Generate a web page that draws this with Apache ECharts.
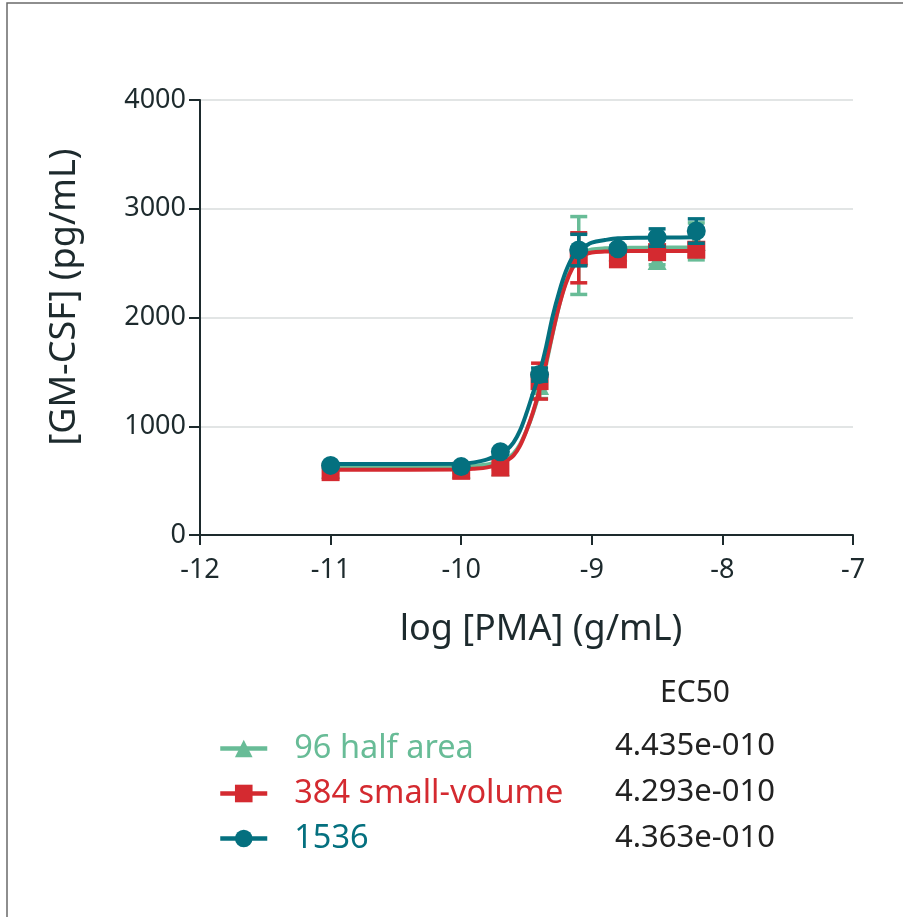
<!DOCTYPE html>
<html>
<head>
<meta charset="utf-8">
<script src="https://cdn.jsdelivr.net/npm/echarts@6/dist/echarts.min.js"></script>
<style>
  html, body { margin: 0; padding: 0; background: #ffffff; }
  #chart { width: 903px; height: 917px; }
</style>
</head>
<body>
<div id="chart"></div>
<script>
// Dose levels, log10 of PMA concentration (g/mL)
const doseLog = [-11, -10, -9.7, -9.4, -9.1, -8.8, -8.5, -8.2];

// Measured GM-CSF (pg/mL): mean and SD per dose, one pair per plate format
const halfAreaMean = [605, 608, 628, 1375, 2570, 2605, 2525, 2700];
const halfAreaSD   = [15, 15, 15, 120, 358, 30, 40, 170];
const smallVolMean = [578, 590, 620, 1415, 2549, 2535, 2601, 2623];
const smallVolSD   = [15, 15, 15, 165, 230, 30, 40, 60];
const w1536Mean    = [640, 629, 765, 1475, 2620, 2632, 2735, 2795];
const w1536SD      = [15, 15, 20, 60, 145, 30, 80, 112];

// Fitted dose-response curves, sampled along log dose
const curveLog = [-11, -10, -9.9, -9.8, -9.7, -9.65, -9.6, -9.55, -9.5, -9.45, -9.4, -9.35,
                  -9.3, -9.25, -9.2, -9.15, -9.1, -9.05, -9.0, -8.9, -8.8, -8.6, -8.4, -8.2];
const halfAreaFit = [628, 630, 636, 648, 676, 704, 748, 832, 960, 1120, 1320, 1570,
                     1850, 2110, 2320, 2470, 2560, 2605, 2625, 2636, 2640, 2642, 2643, 2643];
const smallVolFit = [600, 602, 609, 622, 655, 685, 730, 820, 960, 1130, 1340, 1590,
                     1860, 2110, 2310, 2450, 2535, 2580, 2598, 2606, 2610, 2612, 2612, 2612];
const w1536Fit    = [652, 655, 668, 695, 748, 785, 850, 960, 1120, 1305, 1490, 1730,
                     2010, 2235, 2420, 2550, 2615, 2655, 2688, 2712, 2728, 2734, 2736, 2737];

// Axis ticks
const xTicks = [-12, -11, -10, -9, -8, -7];
const yTicks = [0, 1000, 2000, 3000, 4000];

// Legend names and EC50 values
const seriesNames = ['96 half area', '384 small-volume', '1536'];
const ec50Labels = ['4.435e-010', '4.293e-010', '4.363e-010'];

const GREEN = '#68bc97';
const RED = '#d42a30';
const TEAL = '#04707f';
const INK = '#1d2a2d';
const FONT = 'Noto Sans';

function pairs(xs, ys) { return xs.map((x, i) => [x, ys[i]]); }

function errorBars(mean, sd, color, z) {
  return {
    type: 'custom',
    silent: true,
    z: z,
    data: doseLog.map((x, i) => [x, mean[i], sd[i]]),
    renderItem(params, api) {
      const x = api.value(0), y = api.value(1), e = api.value(2);
      const hi = api.coord([x, y + e]);
      const lo = api.coord([x, y - e]);
      const half = 8.5;
      const style = { stroke: color, lineWidth: 3.5 };
      return {
        type: 'group',
        children: [
          { type: 'line', shape: { x1: hi[0], y1: hi[1], x2: lo[0], y2: lo[1] }, style: style },
          { type: 'line', shape: { x1: hi[0] - half, y1: hi[1], x2: hi[0] + half, y2: hi[1] }, style: style },
          { type: 'line', shape: { x1: lo[0] - half, y1: lo[1], x2: lo[0] + half, y2: lo[1] }, style: style }
        ]
      };
    }
  };
}

function fitLine(name, fit, color, symbol, z) {
  return {
    type: 'line',
    name: name,
    z: z,
    data: pairs(curveLog, fit),
    smooth: 0.35,
    showSymbol: false,
    symbol: symbol,
    symbolSize: 18,
    silent: true,
    lineStyle: { color: color, width: 4 },
    itemStyle: { color: color }
  };
}

function points(mean, color, symbol, size, z) {
  return {
    type: 'scatter',
    z: z,
    silent: true,
    symbol: symbol,
    symbolSize: size,
    data: pairs(doseLog, mean),
    itemStyle: { color: color, opacity: 1 }
  };
}

const chart = echarts.init(document.getElementById('chart'), null, { renderer: 'canvas' });

chart.setOption({
  animation: false,
  backgroundColor: '#ffffff',
  textStyle: { fontFamily: FONT },
  grid: { left: 200, right: 50, top: 100, bottom: 382, containLabel: false },
  xAxis: {
    type: 'value',
    min: xTicks[0],
    max: xTicks[xTicks.length - 1],
    interval: 1,
    axisLine: { show: true, onZero: false, lineStyle: { color: INK, width: 2 } },
    axisTick: { show: true, length: 10, lineStyle: { color: INK, width: 2 } },
    axisLabel: { color: INK, fontSize: 27, fontFamily: FONT, margin: 22, formatter: v => String(v) },
    splitLine: { show: false }
  },
  yAxis: {
    type: 'value',
    min: yTicks[0],
    max: yTicks[yTicks.length - 1],
    interval: 1000,
    axisLine: { show: true, lineStyle: { color: INK, width: 2 } },
    axisTick: { show: true, length: 11, lineStyle: { color: INK, width: 2 } },
    axisLabel: { color: INK, fontSize: 27, fontFamily: FONT, margin: 14, formatter: v => String(v) },
    splitLine: { show: true, lineStyle: { color: '#d8dcdc', width: 1.5 } }
  },
  legend: {
    orient: 'vertical',
    left: 213,
    top: 727,
    itemWidth: 47,
    itemHeight: 22,
    itemGap: 12,
    selectedMode: false,
    lineStyle: { width: 4.5 },
    data: [
      { name: seriesNames[0], textStyle: { color: GREEN } },
      { name: seriesNames[1], textStyle: { color: RED } },
      { name: seriesNames[2], textStyle: { color: TEAL } }
    ],
    textStyle: { fontSize: 32.5, fontFamily: FONT, lineHeight: 30, padding: [0, 0, 0, 22] }
  },
  graphic: [
    { type: 'polyline', silent: true, shape: { points: [[7, 917], [7, 3], [903, 3]] },
      style: { stroke: '#6a6a6a', lineWidth: 1.5, fill: null } },
    { type: 'text', silent: true, x: 65, y: 297, rotation: Math.PI / 2,
      style: { text: '[GM-CSF] (pg/mL)', fill: INK, font: '36px "Noto Sans"', align: 'center', verticalAlign: 'middle' } },
    { type: 'text', silent: true, x: 541, y: 630,
      style: { text: 'log [PMA] (g/mL)', fill: INK, font: '36px "Noto Sans"', align: 'center', verticalAlign: 'middle' } },
    { type: 'text', silent: true, x: 695, y: 693,
      style: { text: 'EC50', fill: '#222222', font: '30px "Noto Sans"', align: 'center', verticalAlign: 'middle' } },
    { type: 'text', silent: true, x: 615, y: 746,
      style: { text: ec50Labels[0], fill: '#222222', font: '31px "Noto Sans"', align: 'left', verticalAlign: 'middle' } },
    { type: 'text', silent: true, x: 615, y: 792,
      style: { text: ec50Labels[1], fill: '#222222', font: '31px "Noto Sans"', align: 'left', verticalAlign: 'middle' } },
    { type: 'text', silent: true, x: 615, y: 838,
      style: { text: ec50Labels[2], fill: '#222222', font: '31px "Noto Sans"', align: 'left', verticalAlign: 'middle' } }
  ],
  series: [
    errorBars(halfAreaMean, halfAreaSD, GREEN, 2),
    fitLine(seriesNames[0], halfAreaFit, GREEN, 'triangle', 3),
    points(halfAreaMean, GREEN, 'triangle', 19, 4),
    errorBars(smallVolMean, smallVolSD, RED, 5),
    fitLine(seriesNames[1], smallVolFit, RED, 'rect', 6),
    points(smallVolMean, RED, 'rect', 18, 7),
    errorBars(w1536Mean, w1536SD, TEAL, 8),
    fitLine(seriesNames[2], w1536Fit, TEAL, 'circle', 9),
    points(w1536Mean, TEAL, 'circle', 19, 10)
  ]
});
</script>
</body>
</html>
